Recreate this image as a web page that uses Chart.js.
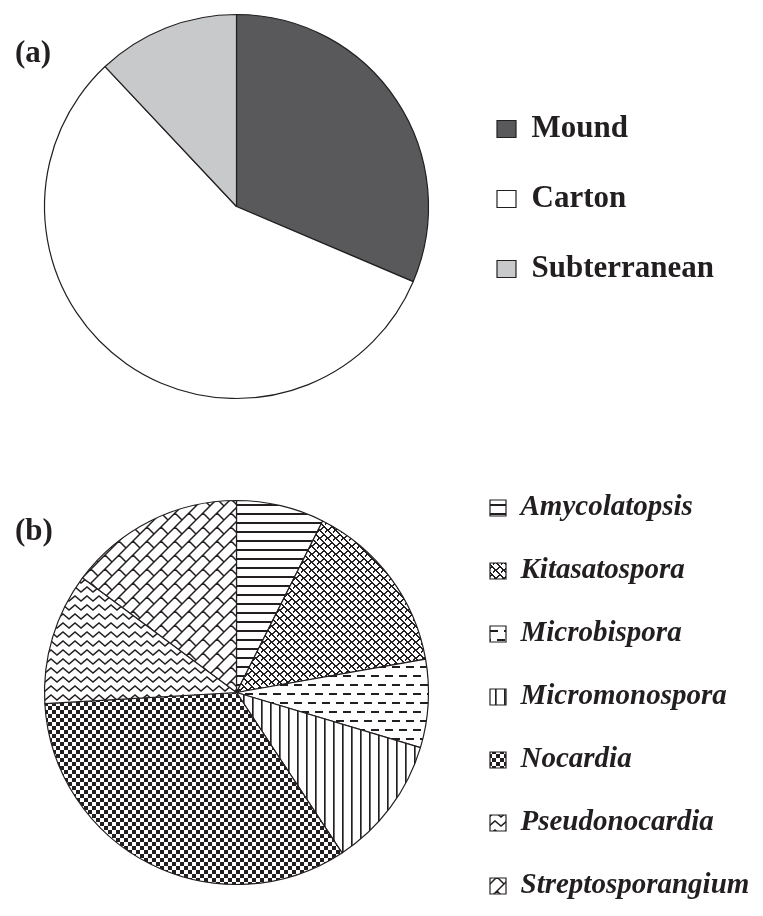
<!DOCTYPE html>
<html>
<head>
<meta charset="utf-8">
<script src="https://cdn.jsdelivr.net/npm/chart.js@4.4.0/dist/chart.umd.min.js"></script>
<style>
  html, body { margin: 0; background: #fff; overflow: hidden; }
  #wrap { position: relative; width: 763px; height: 916px; }
  #wrap canvas { position: absolute; left: 0; }
  .tag { position: absolute; left: 15px; font: bold 31px "Liberation Serif", "Times New Roman", serif; color: #231f20; }
</style>
</head>
<body>
<div id="wrap">
  <canvas id="nest-chart" width="763" height="440" style="top:0"></canvas>
  <canvas id="genus-chart" width="763" height="466" style="top:450px"></canvas>
  <div class="tag" style="top:34px">(a)</div>
  <div class="tag" style="top:512px">(b)</div>
</div>
<script>
// (a) nest types
const nestTypes = ['Mound', 'Carton', 'Subterranean'];
const nestShare = [31.4, 56.6, 12.0];
const nestColors = ['#59595b', '#ffffff', '#c8c9cb'];

// (b) genera
const genera = ['Amycolatopsis', 'Kitasatospora', 'Microbispora', 'Micromonospora', 'Nocardia', 'Pseudonocardia', 'Streptosporangium'];
const genusCounts = [2, 4, 2, 3, 9, 3, 4];

const ink = '#231f20';
const serif = '"Liberation Serif", "Times New Roman", serif';

// small tiles used as fill patterns
function tile(w, h, paint) {
    const c = document.createElement('canvas');
    c.width = w;
    c.height = h;
    const g = c.getContext('2d');
    g.fillStyle = '#fff';
    g.fillRect(0, 0, w, h);
    g.fillStyle = ink;
    g.strokeStyle = ink;
    paint(g);
    return c;
}

function bits(rows) {
    return g => rows.forEach((r, y) => [...r].forEach((ch, x) => {
        if (ch === '#') g.fillRect(x, y, 1, 1);
    }));
}

function makePatterns(ctx) {
    const tiles = [
        // Amycolatopsis: horizontal lines
        tile(9, 9, g => g.fillRect(0, 0, 9, 2)),
        // Kitasatospora: weave
        tile(8, 8, bits([
            '#.....##',
            '##...##.',
            '.##..#..',
            '..##....',
            '...##...',
            '..####..',
            '.##..##.',
            '##....##'
        ])),
        // Microbispora: dashes
        tile(14, 18, g => {
            g.fillRect(0, 0, 8, 2);
            g.fillRect(7, 9, 7, 2);
            g.fillRect(0, 9, 1, 2);
        }),
        // Micromonospora: vertical lines
        tile(9, 9, g => {
            g.fillRect(0, 0, 1, 9);
            g.fillStyle = '#6a6a6a';
            g.fillRect(1, 0, 1, 9);
        }),
        // Nocardia: checker
        tile(8, 8, g => {
            g.fillRect(0, 0, 4, 4);
            g.fillRect(4, 4, 4, 4);
        }),
        // Pseudonocardia: wave
        tile(12, 9, g => {
            g.lineWidth = 1.5;
            g.beginPath();
            g.moveTo(-3, 7);
            g.lineTo(3, 2);
            g.lineTo(9, 7);
            g.lineTo(15, 2);
            g.stroke();
        }),
        // Streptosporangium: diagonal brick
        tile(28, 28, g => {
            g.lineWidth = 1.5;
            g.beginPath();
            for (let c = -14; c <= 70; c += 14) {
                g.moveTo(c + 14, -14);
                g.lineTo(c - 42, 42);
            }
            for (let k = -3; k <= 5; k++) {
                const off = ((k % 2) + 2) % 2 * 14;
                for (let d = -70 + off; d <= 70; d += 28) {
                    g.moveTo((14 * k + d) / 2, (14 * k - d) / 2);
                    g.lineTo((14 * (k + 1) + d) / 2, (14 * (k + 1) - d) / 2);
                }
            }
            g.stroke();
        })
    ];
    return tiles.map(t => ctx.createPattern(t, 'repeat'));
}

// legend with a fixed box (the built-in legend is centred on the chart otherwise)
const legendBox = {
    id: 'legendBox',
    beforeInit(chart, args, opts) {
        const fit = chart.legend.fit;
        chart.legend.fit = function () {
            this.maxHeight = opts.height;
            fit.call(this);
            this.width = opts.width;
        };
    },
    afterLayout(chart, args, opts) {
        const lg = chart.legend;
        lg.left = opts.left;
        lg.right = opts.left + opts.width;
        lg.width = opts.width;
        lg.top = opts.top;
        lg.bottom = opts.top + opts.height;
        lg.height = opts.height;
    }
};

new Chart(document.getElementById('nest-chart'), {
    type: 'pie',
    data: {
        labels: nestTypes,
        datasets: [{
            data: nestShare,
            backgroundColor: nestColors,
            borderColor: ink,
            borderWidth: 1.2,
            radius: 192
        }]
    },
    options: {
        responsive: false,
        animation: false,
        events: [],
        layout: { padding: { left: 15, top: 14, bottom: 41, right: 0 } },
        plugins: {
            tooltip: { enabled: false },
            legend: {
                position: 'right',
                labels: {
                    boxWidth: 19,
                    boxHeight: 17,
                    padding: 39,
                    color: ink,
                    font: { family: serif, size: 31, weight: 'bold' }
                }
            },
            legendBox: { left: 458, width: 305, top: 6.5, height: 385 }
        }
    },
    plugins: [legendBox]
});

const genusCanvas = document.getElementById('genus-chart');
new Chart(genusCanvas, {
    type: 'pie',
    data: {
        labels: genera,
        datasets: [{
            data: genusCounts,
            backgroundColor: makePatterns(genusCanvas.getContext('2d')),
            borderColor: ink,
            borderWidth: 1.2,
            radius: 192
        }]
    },
    options: {
        responsive: false,
        animation: false,
        events: [],
        layout: { padding: { left: 17, top: 50, bottom: 31, right: 0 } },
        plugins: {
            tooltip: { enabled: false },
            legend: {
                position: 'right',
                labels: {
                    boxWidth: 16,
                    boxHeight: 16,
                    padding: 34,
                    color: ink,
                    font: { family: serif, size: 29, weight: 'bold', style: 'italic' }
                }
            },
            legendBox: { left: 456, width: 307, top: -3, height: 500 }
        }
    },
    plugins: [legendBox]
});
</script>
</body>
</html>
